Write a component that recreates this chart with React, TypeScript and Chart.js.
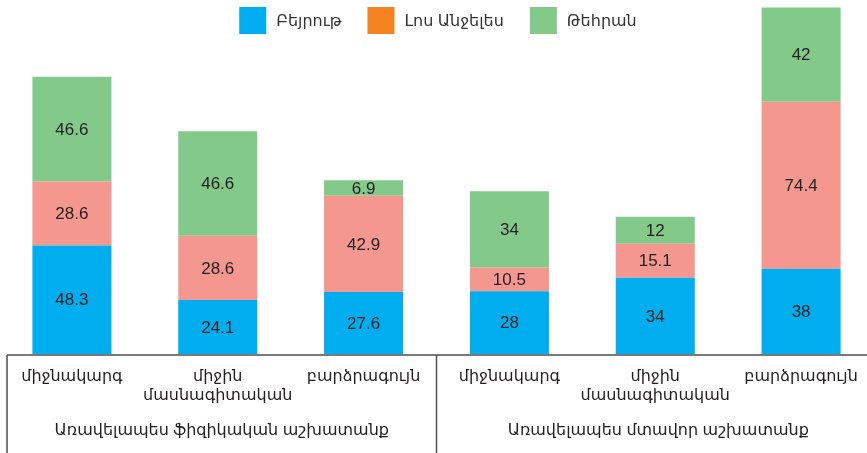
import React, { useEffect, useRef } from "react";
import { Chart, registerables } from "chart.js";

Chart.register(...registerables);

const categories: string[][] = [
  ["միջնակարգ"],
  ["միջին", "մասնագիտական"],
  ["բարձրագույն"],
  ["միջնակարգ"],
  ["միջին", "մասնագիտական"],
  ["բարձրագույն"],
];
const groupLabels = ["Առավելապես ֆիզիկական աշխատանք", "Առավելապես մտավոր աշխատանք"];
const seriesNames = ["Բեյրութ", "Լոս Անջելես", "Թեհրան"];
const beirut = [48.3, 24.1, 27.6, 28, 34, 38];
const losAngeles = [28.6, 28.6, 42.9, 10.5, 15.1, 74.4];
const tehran = [46.6, 46.6, 6.9, 34, 12, 42];

const BLUE = "#00AEEF";
const PINK = "#F4978F";
const ORANGE = "#F58220";
const GREEN = "#83C98A";
const legendColors = [BLUE, ORANGE, GREEN];
const FONT = '"Liberation Sans", "DejaVu Sans", Arial, sans-serif';

// canvas offset relative to page
const OX = -1;
const OY = -30;

const dataLabelPlugin = {
  id: "dataLabels",
  afterDatasetsDraw(chart: any) {
    const ctx = chart.ctx;
    ctx.save();
    ctx.font = `17px ${FONT}`;
    ctx.fillStyle = "#231F20";
    ctx.textAlign = "center";
    ctx.textBaseline = "middle";
    chart.data.datasets.forEach((ds: any, i: number) => {
      const meta = chart.getDatasetMeta(i);
      meta.data.forEach((el: any, j: number) => {
        const v = ds.data[j];
        const cy = (el.y + el.base) / 2;
        ctx.fillText(String(v), el.x, cy + 1);
      });
    });
    ctx.restore();
  },
};

const legendPlugin = {
  id: "topLegend",
  afterDraw(chart: any) {
    const ctx = chart.ctx;
    ctx.save();
    ctx.font = `16px ${FONT}`;
    ctx.textBaseline = "middle";
    ctx.textAlign = "left";
    const box = 27;
    const gap = 10;
    const spacing = 26;
    const names = chart.data.datasets.map((d: any) => d.label);
    const widths = names.map((n: string) => box + gap + ctx.measureText(n).width);
    const total = widths.reduce((a: number, b: number) => a + b, 0) + spacing * (names.length - 1);
    let x = 438 - OX - total / 2;
    const top = 7 - OY;
    names.forEach((n: string, i: number) => {
      ctx.fillStyle = legendColors[i];
      ctx.fillRect(x, top, box, box);
      ctx.fillStyle = "#333333";
      ctx.fillText(n, x + box + gap, top + box / 2 + 1);
      x += widths[i] + spacing;
    });
    ctx.restore();
  },
};

const tablePlugin = {
  id: "tableAxis",
  afterDraw(chart: any) {
    const ctx = chart.ctx;
    const area = chart.chartArea;
    const xs = chart.scales.x;
    const yLine = area.bottom + 1;
    const leftX = 7 - OX;
    const midX = (xs.getPixelForValue(2) + xs.getPixelForValue(3)) / 2;
    const bottom = chart.height;
    ctx.save();
    ctx.strokeStyle = "#4D4D4D";
    ctx.lineWidth = 1.5;
    ctx.beginPath();
    ctx.moveTo(leftX, yLine);
    ctx.lineTo(chart.width, yLine);
    ctx.moveTo(leftX, yLine);
    ctx.lineTo(leftX, bottom);
    ctx.moveTo(midX, yLine);
    ctx.lineTo(midX, bottom);
    ctx.stroke();
    ctx.font = `16px ${FONT}`;
    ctx.fillStyle = "#231F20";
    ctx.textAlign = "center";
    ctx.textBaseline = "middle";
    const gy = 431 - OY;
    ctx.fillText(groupLabels[0], xs.getPixelForValue(1) + 4, gy);
    ctx.fillText(groupLabels[1], xs.getPixelForValue(4) + 3, gy);
    ctx.restore();
  },
};

export default function App() {
  const ref = useRef<HTMLCanvasElement | null>(null);
  useEffect(() => {
    if (!ref.current) return;
    const chart = new Chart(ref.current, {
      type: "bar",
      data: {
        labels: categories,
        datasets: [
          { label: seriesNames[0], data: beirut, backgroundColor: BLUE },
          { label: seriesNames[1], data: losAngeles, backgroundColor: PINK },
          { label: seriesNames[2], data: tehran, backgroundColor: GREEN },
        ],
      },
      options: {
        animation: false,
        responsive: false,
        maintainAspectRatio: false,
        layout: { padding: { top: 13, left: 0, right: 0, bottom: 0 } },
        datasets: { bar: { categoryPercentage: 1, barPercentage: 0.542 } },
        scales: {
          x: {
            stacked: true,
            grid: { display: false, drawTicks: false },
            border: { display: false },
            ticks: {
              padding: 13,
              color: "#231F20",
              font: { family: FONT, size: 16, lineHeight: 1.2 },
              maxRotation: 0,
              autoSkip: false,
            },
            afterFit: (s: any) => {
              s.height = 99;
            },
          },
          y: {
            stacked: true,
            display: false,
            min: 0,
            max: 165.3,
          },
        },
        plugins: {
          tooltip: { enabled: false },
          legend: { display: false },
        },
      },
      plugins: [dataLabelPlugin, tablePlugin, legendPlugin],
    });
    return () => chart.destroy();
  }, []);
  return (
    <div
      style={{
        position: "fixed",
        left: 0,
        top: 0,
        width: 867,
        height: 453,
        overflow: "hidden",
        background: "#fff",
      }}
    >
      <div style={{ position: "absolute", left: OX, top: OY, width: 875, height: 483 }}>
        <canvas ref={ref} width={875} height={483} style={{ width: 875, height: 483 }} />
      </div>
    </div>
  );
}
